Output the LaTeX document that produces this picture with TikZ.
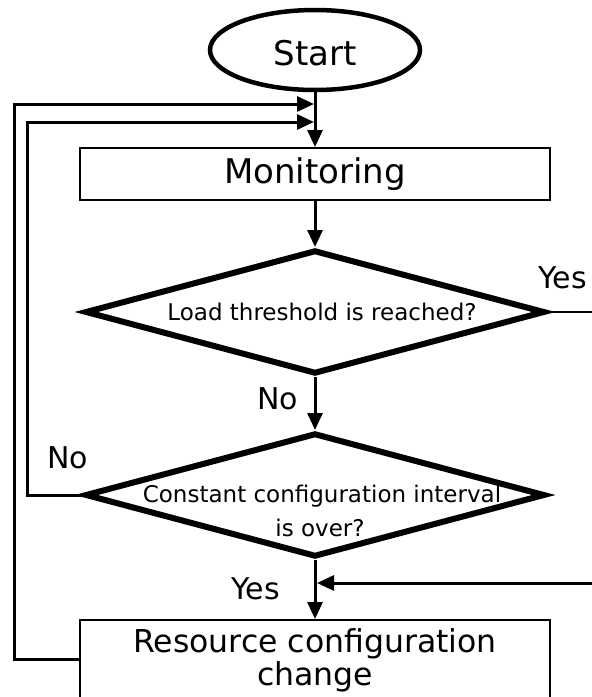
\documentclass[tikz,border=0pt]{standalone}
\usepackage{fontspec}
\setmainfont{DejaVu Sans}
\usetikzlibrary{shapes.geometric,arrows.meta}
\begin{document}
\begin{tikzpicture}[x=1pt,y=-1pt,
  conn/.style={line width=3pt,-{Triangle[length=17pt,width=15pt]}},
  plain/.style={line width=2.6pt},
  boxnode/.style={draw,rectangle,line width=2pt,minimum width=470pt,inner sep=0pt},
  dia/.style={draw,diamond,line width=6pt,minimum width=460pt,minimum height=124pt,inner sep=0pt},
  bigtxt/.style={font=\fontsize{34}{40}\selectfont,inner sep=0pt,anchor=base},
  midtxt/.style={font=\fontsize{31.5}{38}\selectfont,inner sep=0pt,anchor=base},
  lbl/.style={font=\fontsize{30}{35}\selectfont,inner sep=0pt,anchor=base west},
  smalltxt/.style={font=\fontsize{23}{28}\selectfont,inner sep=0pt,anchor=base}]
\useasboundingbox (0,0) rectangle (592,697);
% shapes
\node[draw,ellipse,line width=4.5pt,minimum width=210pt,minimum height=80pt,inner sep=0pt] (start) at (315,50) {};
\node[bigtxt] (starttxt) at (315,65) {Start};
\node[boxnode,minimum height=52pt] (mon) at (315,174) {};
\node[bigtxt] (montxt) at (315,183) {Monitoring};
\node[dia] (d1) at (315,312) {};
\node[smalltxt] (d1txt) at (322,320) {Load threshold is reached?};
\node[dia] (d2) at (315,495) {};
\node[smalltxt] (d2txta) at (322,502) {Constant configuration interval};
\node[smalltxt] (d2txtb) at (320,536) {is over?};
\node[boxnode,minimum height=78pt] (res) at (315,659) {};
\node[midtxt] (restxta) at (315,652) {Resource configuration};
\node[midtxt] (restxtb) at (315,685) {change};
% labels
\node[lbl] (yes1) at (538,288) {Yes};
\node[lbl] (no1) at (257,409) {No};
\node[lbl] (no2) at (47,468) {No};
\node[lbl] (yes2) at (231,599) {Yes};
% coordinates
\coordinate (yesout) at (600,312);
\coordinate (yesin) at (600,583);
\coordinate (merge2) at (317,583);
\coordinate (o2) at (14,104);
\coordinate (m1) at (314,104);
\coordinate (i2) at (27,122);
\coordinate (m2) at (314,122);
% connectors
\draw[conn] (start) -- (mon);
\draw[conn] (mon) -- (d1);
\draw[conn] (d1) -- (d2);
\draw[conn] (d2) -- (res);
\draw[plain] (d1.east) -- (yesout);
\draw[conn] (yesin) -- (merge2);
\draw[conn] (res.west) -| (o2) -- (m1);
\draw[conn] (d2.west) -| (i2) -- (m2);
\end{tikzpicture}
\end{document}
